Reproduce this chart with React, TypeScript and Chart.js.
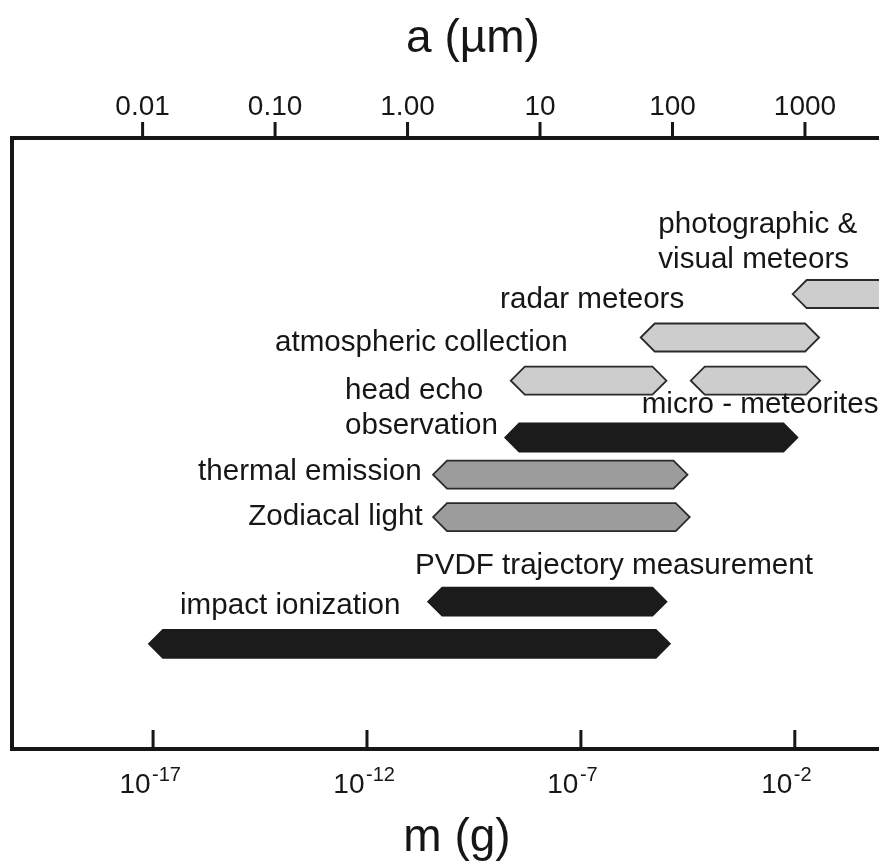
import React, { useEffect, useRef } from 'react';
import { Chart, registerables } from 'chart.js';

Chart.register(...registerables);

// Dust detection techniques and the particle-mass range (grams) each one covers
const techniques = [
  'photographic & visual meteors',
  'radar meteors',
  'atmospheric collection',
  'micro - meteorites',
  'head echo observation',
  'thermal emission',
  'Zodiacal light',
  'PVDF trajectory measurement',
  'impact ionization',
];
const massFrom = [8.9e-3, 2.5e-6, 2.3e-9, 3.7e-5, 1.7e-9, 3.5e-11, 3.5e-11, 2.7e-11, 8.0e-18];
const massTo = [10, 3.7e-2, 1.0e-5, 3.9e-2, 1.15e-2, 3.1e-5, 3.5e-5, 1.0e-5, 1.2e-5];
// vertical lane of each technique (0 = top of the frame, 14 = bottom)
const lanes = [3.575, 4.571, 5.561, 5.561, 6.863, 7.715, 8.685, 10.625, 11.59];
// shading group of each technique: 0 = black, 1 = mid grey, 2 = light grey
const shadeGroup = [2, 2, 2, 2, 0, 1, 1, 0, 0];

// bottom axis: mass m (g)
const massTickValues = [1e-17, 1e-12, 1e-7, 1e-2];
const massTickExponents = ['-17', '-12', '-7', '-2'];
// top axis: radius a (µm)
const radiusTickValues = [0.01, 0.1, 1, 10, 100, 1000];
const radiusTickLabels = ['0.01', '0.10', '1.00', '10', '100', '1000'];

// axis ranges
const massRange = { min: 5.04e-21, max: 0.929 };
const radiusRange = { min: 1.033e-3, max: 3622 };
const laneRange = { min: 0, max: 14 };

// technique captions, anchored in (mass, lane) coordinates
const captions = [
  { lines: ['photographic &', 'visual meteors'], m: 6.44e-6, lane: 2.184, align: 'left' },
  { lines: ['radar meteors'], m: 1.29e-9, lane: 3.896, align: 'left' },
  { lines: ['atmospheric collection'], m: 7.06e-15, lane: 4.874, align: 'left' },
  { lines: ['head echo', 'observation'], m: 3.06e-13, lane: 5.988, align: 'left' },
  { lines: ['micro - meteorites'], m: 2.64e-6, lane: 6.295, align: 'left' },
  { lines: ['thermal emission'], m: 1.9e-11, lane: 7.837, align: 'right' },
  { lines: ['Zodiacal light'], m: 2.0e-11, lane: 8.868, align: 'right' },
  { lines: ['PVDF trajectory measurement'], m: 1.32e-11, lane: 9.998, align: 'left' },
  { lines: ['impact ionization'], m: 4.26e-17, lane: 10.907, align: 'left' },
];

const FONT = '"Liberation Sans", Arial, Helvetica, sans-serif';
const INK = '#161616';
const SHADES = [
  { fill: '#1b1b1b', stroke: '#1b1b1b' },
  { fill: '#9c9c9c', stroke: '#2a2a2a' },
  { fill: '#cdcdcd', stroke: '#2a2a2a' },
];

const WIDTH = 879;
const HEIGHT = 861;

// draws each floating bar as a hexagonal "arrow" spanning its mass range
const hexBars = {
  id: 'hexBars',
  afterDatasetsDraw(chart: any) {
    const { ctx, chartArea: a } = chart;
    const meta = chart.getDatasetMeta(0);
    ctx.save();
    ctx.beginPath();
    ctx.rect(a.left, a.top, a.right - a.left, a.bottom - a.top);
    ctx.clip();
    meta.data.forEach((el: any, i: number) => {
      const { x, y, base, height } = el.getProps(['x', 'y', 'base', 'height'], true);
      const x0 = Math.min(x, base);
      const x1 = Math.max(x, base);
      const h = height / 2;
      const tip = h;
      const shade = SHADES[shadeGroup[i]];
      ctx.beginPath();
      ctx.moveTo(x0, y);
      ctx.lineTo(x0 + tip, y - h);
      ctx.lineTo(x1 - tip, y - h);
      ctx.lineTo(x1, y);
      ctx.lineTo(x1 - tip, y + h);
      ctx.lineTo(x0 + tip, y + h);
      ctx.closePath();
      ctx.fillStyle = shade.fill;
      ctx.fill();
      ctx.lineWidth = 1.8;
      ctx.lineJoin = 'miter';
      ctx.strokeStyle = shade.stroke;
      ctx.stroke();
    });
    ctx.restore();
  },
};

// frame, both mass / radius axes, axis titles and captions
const frameAndText = {
  id: 'frameAndText',
  afterDraw(chart: any) {
    const { ctx, chartArea: a } = chart;
    const xs = chart.scales.x;
    const xr = chart.scales.x2;
    const ys = chart.scales.y;
    ctx.save();

    // open frame: top, left and bottom sides
    ctx.strokeStyle = INK;
    ctx.lineWidth = 4;
    ctx.lineJoin = 'miter';
    ctx.lineCap = 'butt';
    ctx.beginPath();
    ctx.moveTo(chart.width + 10, a.top);
    ctx.lineTo(a.left, a.top);
    ctx.lineTo(a.left, a.bottom);
    ctx.lineTo(chart.width + 10, a.bottom);
    ctx.stroke();

    ctx.fillStyle = INK;
    ctx.lineWidth = 3;

    // top axis ticks (outward) and labels
    ctx.font = `28px ${FONT}`;
    ctx.textAlign = 'center';
    ctx.textBaseline = 'alphabetic';
    radiusTickValues.forEach((v, i) => {
      const px = xr.getPixelForValue(v);
      ctx.beginPath();
      ctx.moveTo(px, a.top);
      ctx.lineTo(px, a.top - 16);
      ctx.stroke();
      ctx.fillText(radiusTickLabels[i], px, a.top - 23);
    });

    // bottom axis ticks (inward) and power-of-ten labels
    massTickValues.forEach((v, i) => {
      const px = xs.getPixelForValue(v);
      ctx.beginPath();
      ctx.moveTo(px, a.bottom);
      ctx.lineTo(px, a.bottom - 19);
      ctx.stroke();
      ctx.font = `28px ${FONT}`;
      ctx.textAlign = 'right';
      ctx.fillText('10', px - 2.5, a.bottom + 44);
      ctx.font = `20px ${FONT}`;
      ctx.textAlign = 'left';
      ctx.fillText(massTickExponents[i], px - 1, a.bottom + 32);
    });

    // axis titles
    ctx.font = `46px ${FONT}`;
    ctx.textAlign = 'center';
    ctx.fillText('a (µm)', a.left + 461, a.top - 86);
    ctx.fillText('m (g)', a.left + 445, a.bottom + 102);

    // technique captions
    ctx.font = `29.6px ${FONT}`;
    captions.forEach((c) => {
      const px = xs.getPixelForValue(c.m);
      const py = ys.getPixelForValue(c.lane);
      ctx.textAlign = c.align;
      c.lines.forEach((line, k) => {
        ctx.fillText(line, px, py + k * 35);
      });
    });

    ctx.restore();
  },
};

export default function App() {
  const canvasRef = useRef<HTMLCanvasElement | null>(null);

  useEffect(() => {
    const canvas = canvasRef.current;
    if (!canvas) return;
    const chart = new Chart(canvas, {
      type: 'bar',
      data: {
        labels: techniques,
        datasets: [
          {
            label: 'mass range',
            data: techniques.map((_, i) => ({ x: [massFrom[i], massTo[i]], y: lanes[i] })) as any,
            backgroundColor: 'rgba(0,0,0,0)',
            borderWidth: 0,
            barThickness: 28,
          },
        ],
      },
      options: {
        indexAxis: 'y',
        animation: false,
        responsive: false,
        events: [],
        layout: { padding: { left: 12, right: 0, top: 138, bottom: 112 } },
        plugins: {
          legend: { display: false },
          tooltip: { enabled: false },
        },
        scales: {
          x: { type: 'logarithmic', position: 'bottom', min: massRange.min, max: massRange.max, display: false },
          x2: { type: 'logarithmic', position: 'top', min: radiusRange.min, max: radiusRange.max, display: false },
          y: {
            type: 'linear',
            min: laneRange.min,
            max: laneRange.max,
            reverse: true,
            offset: false,
            display: false,
          },
        },
      },
      plugins: [hexBars, frameAndText],
    });
    return () => chart.destroy();
  }, []);

  // the figure fills the whole window, its frame running off the right edge
  return (
    <div style={{ position: 'fixed', left: 0, top: 0, width: WIDTH, height: HEIGHT, overflow: 'hidden', background: '#fff' }}>
      <canvas ref={canvasRef} width={WIDTH} height={HEIGHT} style={{ display: 'block' }} />
    </div>
  );
}
